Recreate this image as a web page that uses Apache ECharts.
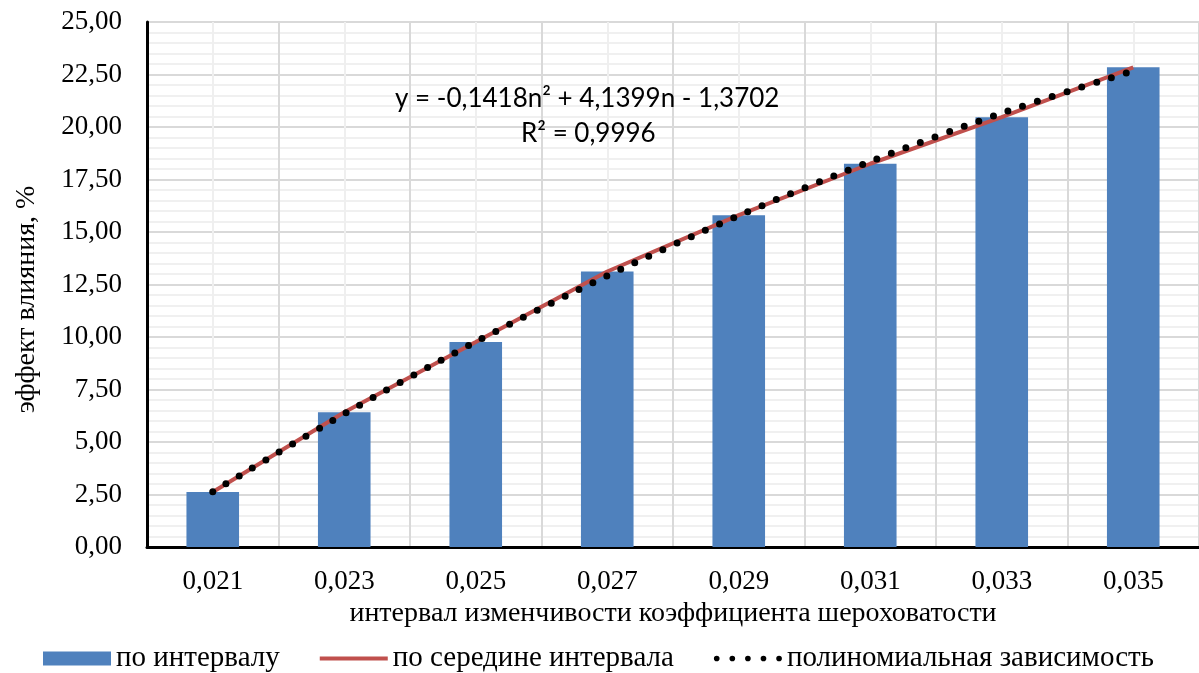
<!DOCTYPE html>
<html>
<head>
<meta charset="utf-8">
<script src="https://cdn.jsdelivr.net/npm/echarts@6/dist/echarts.min.js"></script>
<style>
  html, body { margin: 0; padding: 0; background: #fff; }
  #chart { width: 1199px; height: 673px; }
</style>
</head>
<body>
<div id="chart"></div>
<script>
// categories and values
const categories = ['0,021', '0,023', '0,025', '0,027', '0,029', '0,031', '0,033', '0,035']
const intervalValues = [2.62, 6.42, 9.76, 13.12, 15.8, 18.25, 20.47, 22.84]  // по интервалу
const midValues = [2.62, 6.42, 9.76, 13.12, 15.8, 18.25, 20.47, 22.84]      // по середине интервала
const trendValues = [2.63, 6.34, 9.77, 12.92, 15.78, 18.36, 20.66, 22.67]   // полиномиальная зависимость
const eqLines = ['y = -0,1418n² + 4,1399n - 1,3702', 'R² = 0,9996']

const serif = '"Liberation Serif", "Times New Roman", serif'
const sans = 'Lato, "Open Sans", sans-serif'

// legend icons: flat bar for the red line, five round dots for the trend
const lineIcon = 'path://M0 0H67V4H0Z'
const dotsIcon = 'path://M0 3a3 3 0 1 0 6 0a3 3 0 1 0 -6 0Z' +
  'M16.5 3a3 3 0 1 0 6 0a3 3 0 1 0 -6 0Z' +
  'M33 3a3 3 0 1 0 6 0a3 3 0 1 0 -6 0Z' +
  'M49.5 3a3 3 0 1 0 6 0a3 3 0 1 0 -6 0Z' +
  'M66 3a3 3 0 1 0 6 0a3 3 0 1 0 -6 0Z'

const chart = echarts.init(document.getElementById('chart'))

chart.setOption({
  animation: false,
  grid: {
    left: 147,
    right: 0,
    top: 22,
    bottom: 126,
    containLabel: false
  },
  legend: {
    top: 644,
    left: 43,
    padding: 0,
    itemWidth: 68,
    itemHeight: 14,
    itemGap: 40,
    textStyle: {
      fontFamily: serif,
      fontSize: 29,
      color: '#000'
    },
    data: [
      { name: 'по интервалу', icon: 'rect' },
      { name: 'по середине интервала', icon: lineIcon },
      { name: 'полиномиальная зависимость', icon: dotsIcon }
    ]
  },
  xAxis: [{
    type: 'category',
    data: categories,
    axisLine: { lineStyle: { color: '#000', width: 3 } },
    axisTick: { show: false },
    axisLabel: {
      fontFamily: serif,
      fontSize: 27,
      color: '#000',
      margin: 21
    },
    name: 'интервал изменчивости коэффициента шероховатости',
    nameLocation: 'middle',
    nameGap: 46,
    nameTextStyle: {
      fontFamily: serif,
      fontSize: 28,
      color: '#000'
    },
    splitLine: { show: false }
  }, {
    // helper axis only for the vertical grid lines (boundaries + centres)
    type: 'value',
    position: 'top',
    min: 0,
    max: 16,
    interval: 1,
    axisLine: { show: false },
    axisTick: { show: false },
    axisLabel: { show: false },
    splitLine: {
      show: true,
      lineStyle: { color: ['#d9d9d9', '#efefef'], width: 2 }
    }
  }],
  yAxis: {
    type: 'value',
    min: 0,
    max: 25,
    interval: 2.5,
    name: 'эффект влияния, %',
    nameLocation: 'middle',
    nameGap: 106,
    nameRotate: 90,
    nameTextStyle: {
      fontFamily: serif,
      fontSize: 28,
      color: '#000',
      padding: [0, 30, 0, 0]
    },
    axisLine: { show: true, lineStyle: { color: '#000', width: 3 } },
    axisTick: { show: false },
    axisLabel: {
      fontFamily: serif,
      fontSize: 27,
      color: '#000',
      margin: 25,
      formatter: function(v) {
        return v.toFixed(2).replace('.', ',')
      }
    },
    splitLine: { lineStyle: { color: '#d9d9d9', width: 2 } },
    minorTick: { show: false, splitNumber: 5 },
    minorSplitLine: { show: true, lineStyle: { color: '#f0f0f0', width: 2 } }
  },
  series: [{
    name: 'по интервалу',
    type: 'bar',
    data: intervalValues,
    barWidth: '40%',
    itemStyle: { color: '#4f81bd' },
    z: 2
  }, {
    name: 'по середине интервала',
    type: 'line',
    data: midValues,
    symbol: 'none',
    lineStyle: { color: '#c0504d', width: 4 },
    itemStyle: { color: '#c0504d' },
    z: 3
  }, {
    name: 'полиномиальная зависимость',
    type: 'line',
    data: trendValues,
    smooth: 0.3,
    symbol: 'none',
    lineStyle: { color: '#000', width: 7, type: [0, 15.5], cap: 'round' },
    itemStyle: { color: '#000' },
    z: 4
  }],
  graphic: [{
    type: 'text',
    left: 395,
    top: 86,
    z: 100,
    style: {
      text: eqLines[0],
      font: '26px ' + sans,
      fill: '#000'
    }
  }, {
    type: 'text',
    left: 521,
    top: 121,
    z: 100,
    style: {
      text: eqLines[1],
      font: '26px ' + sans,
      fill: '#000'
    }
  }]
})
</script>
</body>
</html>
